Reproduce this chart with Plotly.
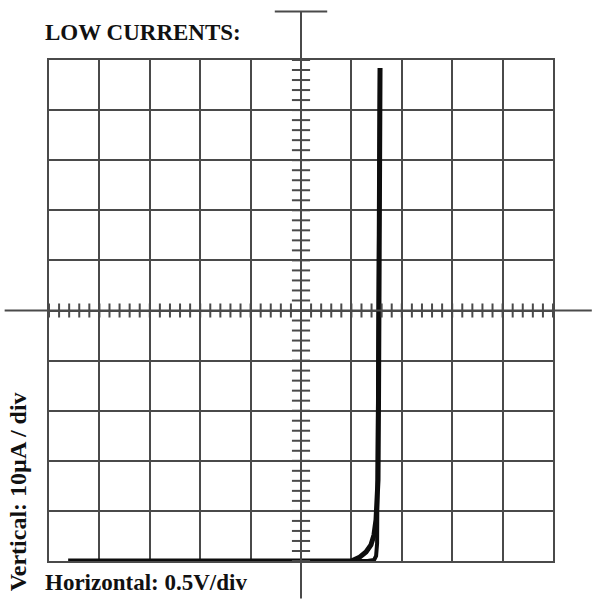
import plotly.graph_objects as go

# Graticule scales
x_range = [-2.5, 2.5]      # volts, 0.5 V/div
y_range = [-50, 50]        # microamps, 10 uA/div
x_div = 0.5
y_div = 10

# Diode trace: forward sweep and return sweep (small loop at the knee)
fwd_v = [-2.31, 0.0, 0.50, 0.585, 0.645, 0.694, 0.724, 0.744, 0.754, 0.764, 0.769, 0.774, 0.784]
fwd_i = [-50.0, -50.0, -50.0, -49.2, -48.2, -46.8, -44.8, -41.8, -37.8, -33.8, -17.9, 2.1, 48.4]
ret_v = [0.784, 0.774, 0.769, 0.764, 0.760, 0.755, 0.745, 0.725, 0.66, 0.55]
ret_i = [48.4, 2.1, -17.9, -33.8, -42.0, -46.5, -49.0, -49.8, -50.0, -50.0]

fig = go.Figure()
fig.add_trace(go.Scatter(x=fwd_v, y=fwd_i, mode="lines", line=dict(color="#0d0d0d", width=5),
                         hoverinfo="skip", showlegend=False))
fig.add_trace(go.Scatter(x=ret_v, y=ret_i, mode="lines", line=dict(color="#0d0d0d", width=4),
                         hoverinfo="skip", showlegend=False))

grid_col = "#4a4a4a"
shapes = []
# Center axes extending past the graticule
shapes.append(dict(type="line", xref="x", yref="paper", x0=0, x1=0, y0=-0.075, y1=1.098,
                   line=dict(color=grid_col, width=2)))
shapes.append(dict(type="line", xref="paper", yref="paper", x0=0.448, x1=0.552, y0=1.097, y1=1.097,
                   line=dict(color=grid_col, width=2)))
shapes.append(dict(type="line", xref="paper", yref="y", x0=-0.088, x1=1.077, y0=0, y1=0,
                   line=dict(color=grid_col, width=2)))

# Minor ticks on the center axes, five per division
n = 5
step_x = x_div / n
k = 0
x = x_range[0]
while x <= x_range[1] + 1e-9:
    shapes.append(dict(type="line", xref="x", yref="y", x0=x, x1=x, y0=-1.4, y1=1.4,
                       line=dict(color=grid_col, width=2)))
    k += 1
    x = x_range[0] + k * step_x
step_y = y_div / n
k = 0
y = y_range[0]
while y <= y_range[1] + 1e-9:
    shapes.append(dict(type="line", xref="x", yref="y", x0=-0.09, x1=0.09, y0=y, y1=y,
                       line=dict(color=grid_col, width=2)))
    k += 1
    y = y_range[0] + k * step_y

label_font = dict(family="Liberation Serif", size=23, color="#111")
fig.update_layout(
    width=599, height=603,
    margin=dict(l=49, r=46, t=60, b=42),
    paper_bgcolor="white", plot_bgcolor="white",
    shapes=shapes,
    xaxis=dict(range=x_range, dtick=x_div, tick0=x_range[0], showticklabels=False,
               showgrid=True, gridcolor=grid_col, gridwidth=2, zeroline=False,
               showline=True, linecolor=grid_col, linewidth=2, mirror=True, ticks=""),
    yaxis=dict(range=y_range, dtick=y_div, tick0=y_range[0], showticklabels=False,
               showgrid=True, gridcolor=grid_col, gridwidth=2, zeroline=False,
               showline=True, linecolor=grid_col, linewidth=2, mirror=True, ticks=""),
    annotations=[
        dict(text="<b>LOW CURRENTS:</b>", xref="paper", yref="paper", x=-0.012, y=1.054,
             xanchor="left", yanchor="middle", showarrow=False, font=label_font),
        dict(text="<b>Horizontal: 0.5V/div</b>", xref="paper", yref="paper", x=-0.012, y=-0.042,
             xanchor="left", yanchor="middle", showarrow=False, font=label_font),
        dict(text="<b>Vertical: 10µA / div</b>", xref="paper", yref="paper", x=-0.062, y=-0.064,
             xanchor="center", yanchor="bottom", textangle=-90, showarrow=False,
             font=dict(family="Liberation Serif", size=24, color="#111")),
    ],
)

fig.write_html("out.html")
